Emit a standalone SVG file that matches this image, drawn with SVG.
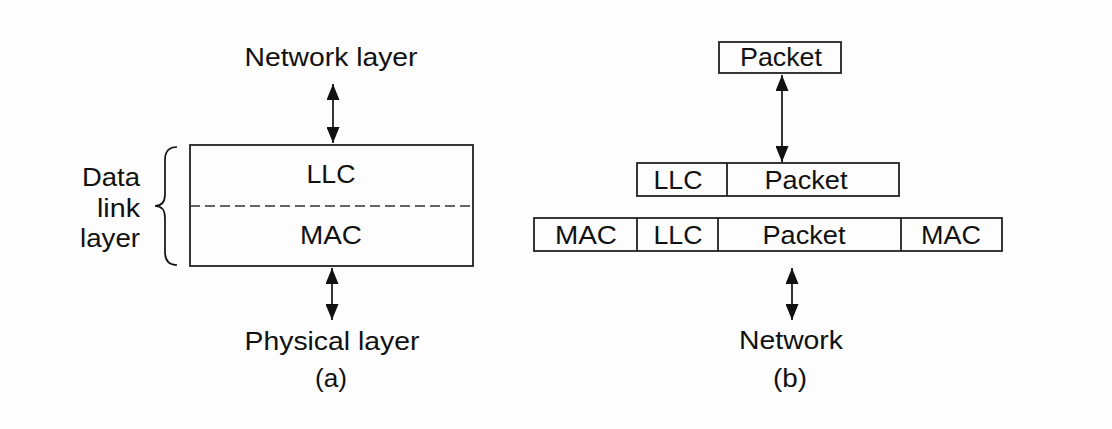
<svg xmlns="http://www.w3.org/2000/svg" width="1112" height="429" viewBox="0 0 1112 429">
<style>
text{font-family:"Liberation Sans",Arial,sans-serif;font-size:26px;fill:#111;text-anchor:middle}
.box{fill:none;stroke:#222;stroke-width:1.8}
.ln{stroke:#111;stroke-width:1.7;fill:none}
.r{text-anchor:end}
</style>
<defs>
<marker id="ah2" markerUnits="userSpaceOnUse" markerWidth="16" markerHeight="13" viewBox="0 0 16 13" refX="16" refY="6.5" orient="auto-start-reverse">
<path d="M0,0 L16,6.5 L0,13 Z" fill="#111"/>
</marker>
</defs>
<rect width="1112" height="429" fill="#fdfdfd"/>
<g id="a-network"><text x="331" y="66" textLength="173" lengthAdjust="spacingAndGlyphs">Network layer</text></g>
<g id="a-stack">
<rect class="box" x="190" y="145" width="283" height="121"/>
<line x1="190" y1="206" x2="473" y2="206" stroke="#333" stroke-width="1.6" stroke-dasharray="10,5"/>
<text x="331" y="183" textLength="49" lengthAdjust="spacingAndGlyphs">LLC</text>
<text x="331" y="244" textLength="62" lengthAdjust="spacingAndGlyphs">MAC</text>
</g>
<g id="a-datalink">
<path class="ln" d="M177,147 Q165,147 165,160 L165,194 Q165,206 155,206 Q165,206 165,218 L165,252 Q165,265 177,265"/>
<text class="r" x="140" y="186" textLength="58" lengthAdjust="spacingAndGlyphs">Data</text>
<text class="r" x="140" y="217" textLength="43" lengthAdjust="spacingAndGlyphs">link</text>
<text class="r" x="140" y="247" textLength="60" lengthAdjust="spacingAndGlyphs">layer</text>
</g>
<g id="a-physical">
<text x="332" y="350" textLength="175" lengthAdjust="spacingAndGlyphs">Physical layer</text>
<text x="331" y="387" textLength="32" lengthAdjust="spacingAndGlyphs">(a)</text>
</g>
<g id="b-packet">
<rect class="box" x="719" y="42" width="122" height="31"/>
<text x="781" y="66" textLength="82" lengthAdjust="spacingAndGlyphs">Packet</text>
</g>
<g id="b-llcpacket">
<rect class="box" x="637" y="163" width="262" height="33"/>
<line class="box" x1="727" y1="163" x2="727" y2="196"/>
<text x="678" y="189" textLength="49" lengthAdjust="spacingAndGlyphs">LLC</text>
<text x="806" y="189" textLength="83" lengthAdjust="spacingAndGlyphs">Packet</text>
</g>
<g id="b-frame">
<rect class="box" x="534" y="218" width="468" height="33"/>
<line class="box" x1="637" y1="218" x2="637" y2="251"/>
<line class="box" x1="718" y1="218" x2="718" y2="251"/>
<line class="box" x1="901" y1="218" x2="901" y2="251"/>
<text x="586" y="244" textLength="62" lengthAdjust="spacingAndGlyphs">MAC</text>
<text x="678" y="244" textLength="49" lengthAdjust="spacingAndGlyphs">LLC</text>
<text x="804" y="244" textLength="83" lengthAdjust="spacingAndGlyphs">Packet</text>
<text x="951" y="244" textLength="60" lengthAdjust="spacingAndGlyphs">MAC</text>
</g>
<g id="b-network">
<text x="791" y="349" textLength="104" lengthAdjust="spacingAndGlyphs">Network</text>
<text x="790" y="387" textLength="34" lengthAdjust="spacingAndGlyphs">(b)</text>
</g>
<g id="connectors">
<line class="ln" x1="333" y1="84" x2="333" y2="143" marker-start="url(#ah2)" marker-end="url(#ah2)"/>
<line class="ln" x1="332" y1="268" x2="332" y2="320" marker-start="url(#ah2)" marker-end="url(#ah2)"/>
<line class="ln" x1="782" y1="75" x2="782" y2="162" marker-start="url(#ah2)" marker-end="url(#ah2)"/>
<line class="ln" x1="792" y1="268" x2="792" y2="320" marker-start="url(#ah2)" marker-end="url(#ah2)"/>
</g>
</svg>
